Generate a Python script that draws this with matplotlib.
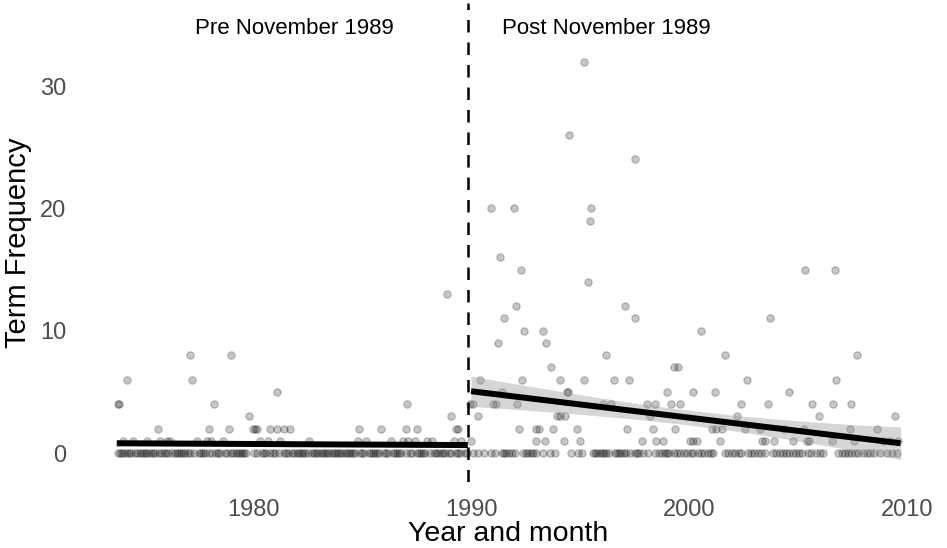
import matplotlib
matplotlib.use("Agg")
import matplotlib.pyplot as plt

plt.rcParams['font.family'] = ['Liberation Sans', 'DejaVu Sans']

# months (decimal year) with a term frequency of 0
zero_pre = [1973.8, 1973.9, 1974.0, 1974.1, 1974.2, 1974.3, 1974.4, 1974.6, 1974.7, 1974.8, 1974.9,
            1975.0, 1975.1, 1975.2, 1975.3, 1975.4, 1975.5, 1975.7, 1975.8, 1975.9, 1976.0, 1976.1,
            1976.3, 1976.4, 1976.5, 1976.6, 1976.7, 1976.8, 1976.9, 1977.0, 1977.1, 1977.3, 1977.5,
            1977.6, 1977.7, 1977.8, 1978.0, 1978.1, 1978.3, 1978.4, 1978.5, 1978.7, 1978.8, 1979.0,
            1979.1, 1979.2, 1979.3, 1979.4, 1979.5, 1979.6, 1979.7, 1980.05, 1980.2, 1980.4, 1980.5,
            1980.6, 1980.8, 1980.9, 1981.0, 1981.2, 1981.4, 1981.5, 1981.6, 1981.8, 1981.9, 1982.0,
            1982.1, 1982.2, 1982.3, 1982.4, 1982.5, 1982.7, 1982.8, 1982.9, 1983.0, 1983.1, 1983.2,
            1983.3, 1983.4, 1983.5, 1983.6, 1983.7, 1983.8, 1983.9, 1984.0, 1984.1, 1984.2, 1984.3,
            1984.4, 1984.5, 1984.6, 1984.7, 1984.9, 1985.0, 1985.1, 1985.3, 1985.4, 1985.5, 1985.6,
            1985.7, 1985.8, 1986.0, 1986.1, 1986.2, 1986.4, 1986.5, 1986.6, 1986.7, 1986.8, 1987.0,
            1987.2, 1987.3, 1987.5, 1987.6, 1987.7, 1987.8, 1987.9, 1988.1, 1988.3, 1988.4, 1988.5,
            1988.6, 1988.7, 1988.8, 1989.0, 1989.1, 1989.3, 1989.4, 1989.5, 1989.7, 1989.8]
zero_post = [1990.1, 1990.3, 1990.6, 1990.9, 1991.1, 1991.4, 1991.5, 1991.6, 1991.75, 1991.9, 1992.0,
             1992.4, 1992.5, 1992.6, 1992.75, 1992.85, 1993.0, 1993.3, 1993.6, 1993.85, 1994.6,
             1994.9, 1995.1, 1995.6, 1995.7, 1995.8, 1995.9, 1996.0, 1996.1, 1996.2, 1996.35, 1996.6,
             1996.7, 1996.8, 1996.9, 1997.0, 1997.1, 1997.3, 1997.5, 1997.6, 1997.7, 1997.9, 1998.1,
             1998.45, 1998.6, 1998.75, 1998.9, 1999.0, 1999.1, 1999.3, 1999.45, 1999.6, 1999.75, 1999.9,
             2000.1, 2000.2, 2000.4, 2000.55, 2000.7, 2000.85, 2001.0, 2001.1, 2001.65, 2001.8, 2001.95,
             2002.1, 2002.3, 2002.4, 2002.7, 2002.85, 2003.0, 2003.15, 2003.3, 2003.5, 2003.85,
             2004.0, 2004.15, 2004.3, 2004.45, 2004.6, 2004.75, 2004.9, 2005.05, 2005.2, 2005.45,
             2005.6, 2005.8, 2006.0, 2006.15, 2006.85, 2007.0, 2007.15, 2007.3, 2007.45, 2007.6,
             2007.75, 2008.0, 2008.15, 2008.3, 2008.5, 2008.75, 2009.1, 2009.3, 2009.55]

# months with a non-zero count: (decimal year, count)
pre_x = [1977.1, 1979.0, 1974.2, 1977.2, 1981.1, 1973.8, 1973.85, 1978.2, 1987.05, 1979.8, 1989.1,
         1988.9,
         1975.65, 1978.0, 1978.9, 1980.0, 1980.1, 1980.2, 1980.8, 1981.1, 1981.4, 1981.7, 1984.85,
         1985.85, 1987.0, 1987.5, 1989.3, 1989.4,
         1974.05, 1974.5, 1975.15, 1975.75, 1976.05, 1976.2, 1977.45, 1977.9, 1978.05, 1978.6,
         1980.3, 1980.7, 1981.25, 1982.55, 1984.8, 1985.2, 1986.35, 1986.9, 1987.1, 1987.45,
         1988.0, 1988.2, 1989.2, 1989.55]
pre_y = [8, 8, 6, 6, 5, 4, 4, 4, 4, 3, 3,
         13,
         2, 2, 2, 2, 2, 2, 2, 2, 2, 2, 2,
         2, 2, 2, 2, 2,
         1, 1, 1, 1, 1, 1, 1, 1, 1, 1,
         1, 1, 1, 1, 1, 1, 1, 1, 1, 1,
         1, 1, 1, 1]

post_x = [1995.2, 1994.5, 1997.5, 1990.9, 1991.95, 1995.5, 1995.45, 1991.35, 1992.3, 2005.3,
          2006.7, 1995.35, 1992.05, 1997.05, 1991.5, 1997.5, 2003.7, 1992.45, 1993.3, 2000.55,
          1991.25, 1993.45, 1996.2, 2001.65, 2007.7, 1993.65, 1999.3, 1999.5,
          1990.4, 1992.35, 1994.1, 1995.2, 1996.55, 1997.25, 2002.65, 2006.75,
          1991.4, 1994.4, 1994.45, 1999.0, 2000.2, 2001.2, 2004.6,
          1989.95, 1990.1, 1991.0, 1991.15, 1992.1, 1996.05, 1996.4, 1998.05, 1998.45, 1999.15,
          1999.6, 2002.4, 2003.6, 2005.65, 2006.6, 2007.45,
          1990.3, 1993.95, 1994.1, 1994.3, 1998.2, 2002.2, 2005.95, 2009.45,
          1992.2, 1993.0, 1993.1, 1993.75, 1994.85, 1997.15, 1998.35, 1999.35, 2001.05, 2001.25,
          2001.5, 2002.55, 2003.25, 2004.35, 2005.25, 2007.4, 2008.6,
          1990.0, 1993.0, 1993.4, 1994.25, 1995.0, 1997.85, 1998.5, 1998.8, 2000.05, 2000.2,
          2000.35, 2001.4, 2003.35, 2003.5, 2003.9, 2004.75, 2005.4, 2005.5, 2006.55, 2007.55,
          2008.9, 2009.2, 2009.6]
post_y = [32, 26, 24, 20, 20, 20, 19, 16, 15, 15,
          15, 14, 12, 12, 11, 11, 11, 10, 10, 10,
          9, 9, 8, 8, 8, 7, 7, 7,
          6, 6, 6, 6, 6, 6, 6, 6,
          5, 5, 5, 5, 5, 5, 5,
          4, 4, 4, 4, 4, 4, 4, 4, 4, 4,
          4, 4, 4, 4, 4, 4,
          3, 3, 3, 3, 3, 3, 3, 3,
          2, 2, 2, 2, 2, 2, 2, 2, 2, 2,
          2, 2, 2, 2, 2, 2, 2,
          1, 1, 1, 1, 1, 1, 1, 1, 1, 1,
          1, 1, 1, 1, 1, 1, 1, 1, 1, 1,
          1, 1, 1]

# linear fits with 95% band
pre_fit_x = [1973.75, 1981.8, 1989.85]
pre_fit_y = [0.8, 0.72, 0.65]
pre_fit_lo = [0.55, 0.6, 0.42]
pre_fit_hi = [1.05, 0.84, 0.88]

post_fit_x = [1990.0, 1992.5, 1995.0, 1997.5, 2000.0, 2002.5, 2005.0, 2007.5, 2009.7]
post_fit_y = [5.05, 4.51, 3.97, 3.43, 2.89, 2.35, 1.81, 1.27, 0.80]
post_fit_lo = [3.82, 3.51, 3.17, 2.78, 2.29, 1.70, 0.99, 0.22, -0.53]
post_fit_hi = [6.28, 5.51, 4.77, 4.08, 3.49, 3.00, 2.63, 2.32, 2.13]

cutoff = 1989.875
labels = ["Pre November 1989", "Post November 1989"]
label_x = [1981.9, 1996.2]

fig = plt.figure(figsize=(9.47, 5.48), dpi=100)
ax = fig.add_axes([76/947, 66/548, 864/947, 479/548])

pt = dict(s=28, color='black', alpha=0.22, linewidths=0.9, zorder=2)
ax.scatter(zero_pre, [0]*len(zero_pre), **pt)
ax.scatter(zero_post, [0]*len(zero_post), **pt)
ax.scatter(pre_x, pre_y, **pt)
ax.scatter(post_x, post_y, **pt)

ax.fill_between(pre_fit_x, pre_fit_lo, pre_fit_hi, color='#999999', alpha=0.4, lw=0, zorder=3)
ax.fill_between(post_fit_x, post_fit_lo, post_fit_hi, color='#999999', alpha=0.4, lw=0, zorder=3)
ax.plot(pre_fit_x, pre_fit_y, color='black', lw=4.3, solid_capstyle='butt', zorder=4)
ax.plot(post_fit_x, post_fit_y, color='black', lw=4.3, solid_capstyle='butt', zorder=4)

ax.axvline(cutoff, color='black', lw=1.8, dashes=(5, 4), zorder=5)

for lx, t in zip(label_x, labels):
    ax.text(lx, 34.7, t, ha='center', va='center', fontsize=16, color='black')

ax.set_xlim(1971.88, 2011.51)
ax.set_ylim(-2.37, 36.79)
ax.set_xticks([1980, 1990, 2000, 2010])
ax.set_yticks([0, 10, 20, 30])
ax.tick_params(length=0, labelsize=17, labelcolor='#4D4D4D')
ax.tick_params(axis='x', pad=12)
ax.tick_params(axis='y', pad=7)
for s in ax.spines.values():
    s.set_visible(False)

ax.set_xlabel("Year and month", fontsize=20.5, labelpad=0)
ax.set_ylabel("Term Frequency", fontsize=21, labelpad=6)

fig.savefig("out.png", dpi=100)
